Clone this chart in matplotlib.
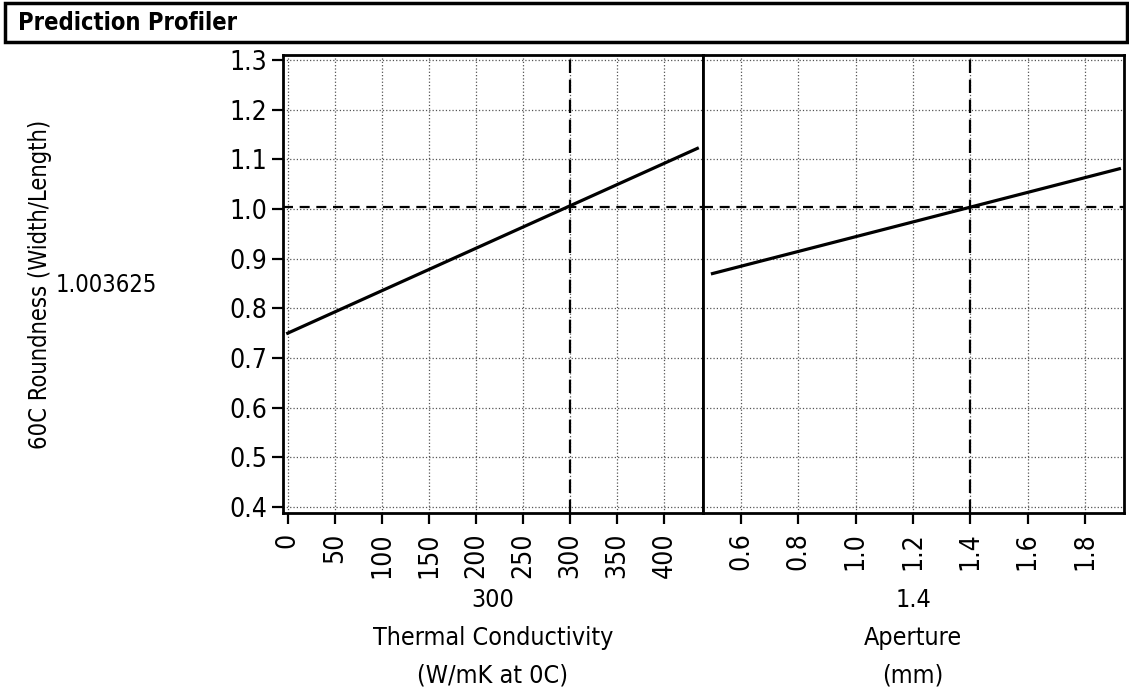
import numpy as np
import matplotlib
matplotlib.use('Agg')
import matplotlib.pyplot as plt
from matplotlib.patches import Rectangle

plt.rcParams['font.family'] = ['DejaVu Sans']
plt.rcParams['font.stretch'] = 'condensed'

tc_x = [0, 435]
tc_y = [0.75, 1.122]
tc_ticks = [0, 50, 100, 150, 200, 250, 300, 350, 400]
ap_x = [0.5, 1.92]
ap_y = [0.87, 1.081]
ap_ticks = [0.6, 0.8, 1.0, 1.2, 1.4, 1.6, 1.8]
ap_ticklabels = ['0.6', '0.8', '1.0', '1.2', '1.4', '1.6', '1.8']
y_ticks = [0.4, 0.5, 0.6, 0.7, 0.8, 0.9, 1.0, 1.1, 1.2, 1.3]
tc_current = 300
ap_current = 1.4
y_current = 1.003625

W, H = 1129, 699
fig = plt.figure(figsize=(W / 100, H / 100), dpi=100)

def px(x0, y0, x1, y1):
    return [x0 / W, 1 - y1 / H, (x1 - x0) / W, (y1 - y0) / H]

# title bar
fig.patches.append(Rectangle((5 / W, 1 - 42 / H), 1122 / W, 39 / H,
                             transform=fig.transFigure, fill=False,
                             edgecolor='black', linewidth=2.5))
fig.text(18 / W, 1 - 23 / H, 'Prediction Profiler', fontsize=17,
         fontweight='bold', va='center', ha='left')

ax1 = fig.add_axes(px(283, 55, 703, 513))
ax2 = fig.add_axes(px(703, 55, 1124, 513))

dash = (0, (4.5, 3))
for ax in (ax1, ax2):
    ax.set_ylim(0.388, 1.31)
    ax.set_yticks(y_ticks)
    ax.grid(True, color='#555555', linestyle=':', linewidth=0.9)
    ax.axhline(y_current, color='black', linestyle=dash, linewidth=1.6)
    for s in ax.spines.values():
        s.set_linewidth(2)
    ax.tick_params(axis='both', direction='out', length=8, width=1.6,
                   labelsize=19)
    ax.tick_params(axis='x', labelrotation=90, pad=6)

ax1.plot(tc_x, tc_y, color='black', linewidth=2.3)
ax1.axvline(tc_current, color='black', linestyle=(0, (6, 3)), linewidth=1.6)
ax1.set_xlim(-5, 441)
ax1.set_xticks(tc_ticks)
ax1.set_yticklabels([f'{v:.1f}' for v in y_ticks])

ax2.plot(ap_x, ap_y, color='black', linewidth=2.3)
ax2.axvline(ap_current, color='black', linestyle=(0, (6, 3)), linewidth=1.6)
ax2.set_xlim(0.467, 1.936)
ax2.set_xticks(ap_ticks)
ax2.set_xticklabels(ap_ticklabels)
ax2.tick_params(axis='y', left=False, labelleft=False)

# factor labels under each panel
fs = 18
fig.text(493 / W, 1 - 600 / H, '300', fontsize=fs, ha='center', va='center')
fig.text(493 / W, 1 - 638 / H, 'Thermal Conductivity', fontsize=fs,
         ha='center', va='center')
fig.text(493 / W, 1 - 676 / H, '(W/mK at 0C)', fontsize=fs,
         ha='center', va='center')
fig.text(913 / W, 1 - 600 / H, '1.4', fontsize=fs, ha='center', va='center')
fig.text(913 / W, 1 - 638 / H, 'Aperture', fontsize=fs,
         ha='center', va='center')
fig.text(913 / W, 1 - 676 / H, '(mm)', fontsize=fs, ha='center', va='center')

# response label
fig.text(40 / W, 1 - 284 / H, '60C Roundness (Width/Length)', fontsize=17,
         rotation=90, ha='center', va='center')
fig.text(106 / W, 1 - 285 / H, '1.003625', fontsize=17,
         ha='center', va='center')

fig.savefig('out.png', dpi=100)
